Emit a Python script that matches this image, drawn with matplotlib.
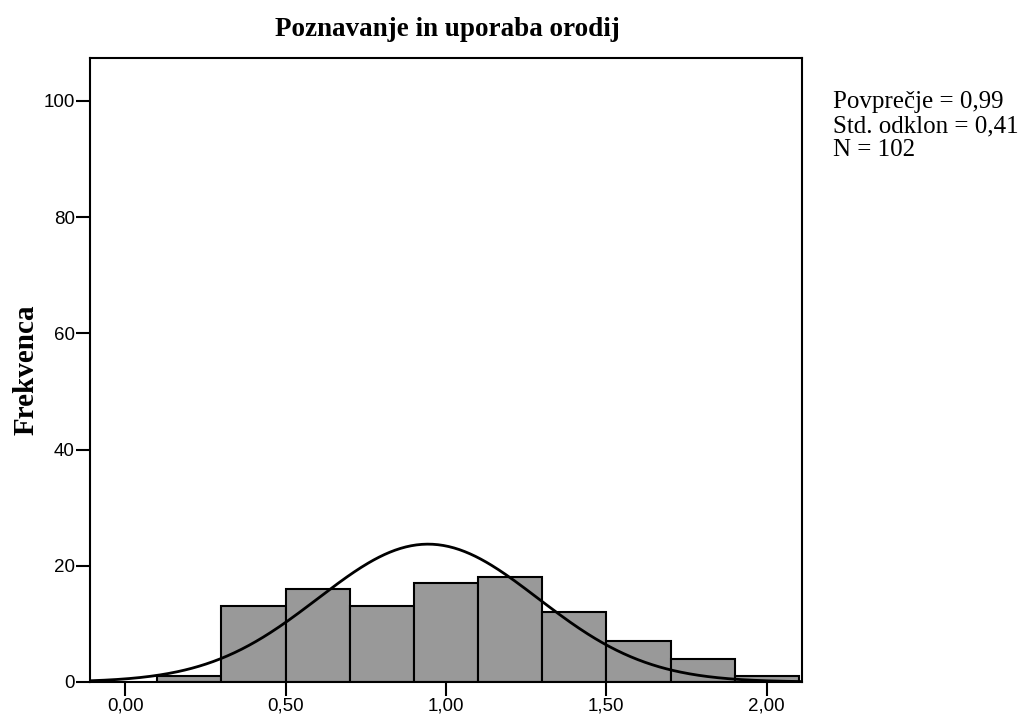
import numpy as np
import matplotlib
matplotlib.use("Agg")
import matplotlib.pyplot as plt

# histogram bins (left edges) and counts
bin_edges = [0.1, 0.3, 0.5, 0.7, 0.9, 1.1, 1.3, 1.5, 1.7, 1.9, 2.1]
counts = [1, 13, 16, 13, 17, 18, 12, 7, 4, 1]

# fitted normal curve as drawn
curve_mean = 0.944
curve_sd = 0.343
n_total = 102
bin_width = 0.2

x_ticks = [0.0, 0.5, 1.0, 1.5, 2.0]
x_labels = ["0,00", "0,50", "1,00", "1,50", "2,00"]
y_ticks = [0, 20, 40, 60, 80, 100]

stats_text = "Povprečje = 0,99\nStd. odklon = 0,41\nN = 102"

fig = plt.figure(figsize=(10.27, 7.15), dpi=100)
ax = fig.add_axes([90 / 1027, 33 / 715, 712 / 1027, 624 / 715])

lefts = bin_edges[:-1]
widths = np.diff(bin_edges)
ax.bar(lefts, counts, width=widths, align="edge", color="#999999",
       edgecolor="black", linewidth=1.5, zorder=2)

xs = np.linspace(-0.11, 2.11, 400)
ys = n_total * bin_width * np.exp(-0.5 * ((xs - curve_mean) / curve_sd) ** 2) / (curve_sd * np.sqrt(2 * np.pi))
ax.plot(xs, ys, color="black", linewidth=2, zorder=3)

ax.set_xlim(-0.11, 2.11)
ax.set_ylim(0, 107.4)
ax.set_xticks(x_ticks)
ax.set_xticklabels(x_labels, fontfamily="Liberation Sans", fontsize=13.5)
ax.set_yticks(y_ticks)
ax.set_yticklabels([str(v) for v in y_ticks], fontfamily="Liberation Sans", fontsize=13.5)
ax.tick_params(direction="out", length=10, width=1.5, pad=1)

for s in ax.spines.values():
    s.set_linewidth(1.5)

ax.set_ylabel("Frekvenca", fontfamily="Liberation Serif", fontweight="bold",
              fontsize=21, labelpad=3)

fig.text(447 / 1027, 1 - 30 / 715, "Poznavanje in uporaba orodij", ha="center", va="center",
         fontfamily="Liberation Serif", fontweight="bold", fontsize=19.5)
fig.text(833 / 1027, 1 - 91 / 715, stats_text, ha="left", va="top",
         fontfamily="Liberation Serif", fontsize=18, linespacing=1.12)

fig.savefig("out.png", dpi=100)
